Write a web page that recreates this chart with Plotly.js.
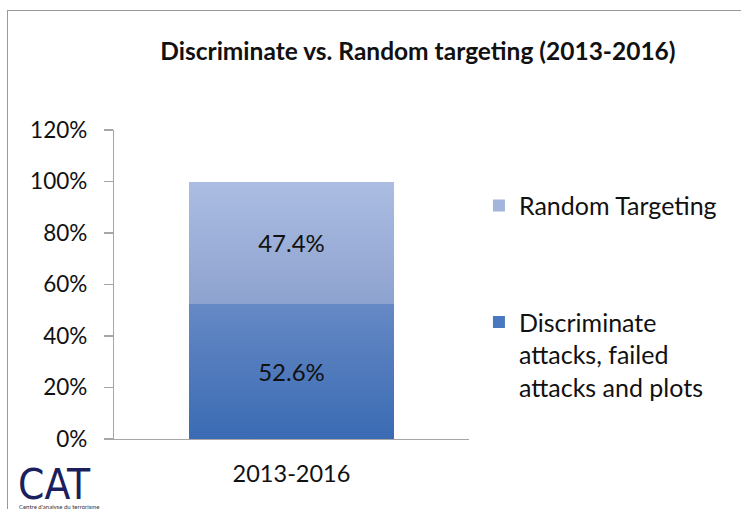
<!DOCTYPE html>
<html>
<head>
<meta charset="utf-8">
<script src="https://cdn.plot.ly/plotly-3.0.1.min.js"></script>
<style>
html,body{margin:0;padding:0;background:#fff;}
#wrap{position:relative;width:741px;height:509px;overflow:hidden;}
#chart{width:741px;height:509px;}
#frame{position:absolute;left:7px;top:10px;width:800px;height:600px;border-left:1.5px solid #9a9a9a;border-top:1.5px solid #9a9a9a;pointer-events:none;}
</style>
</head>
<body>
<div id="wrap"><div id="chart"></div><div id="frame"></div></div>
<script>
const categories = ['2013-2016'];
const discriminate = [52.6];
const randomTargeting = [47.4];
const seriesNames = ['Discriminate<br>attacks, failed<br>attacks and plots', 'Random Targeting'];
const tickVals = [0, 20, 40, 60, 80, 100, 120];
const tickText = ['0%', '20%', '40%', '60%', '80%', '100%', '120%'];

const FONT = 'Lato, "Liberation Sans", sans-serif';

const traces = [
  {
    type: 'bar', x: categories, y: discriminate, name: seriesNames[0], legendgroup: 'a', legendrank: 2,
    marker: {color: '#4a78c0', line: {width: 0}},
    text: discriminate.map(v => v.toFixed(1) + '%'), textposition: 'inside',
    insidetextanchor: 'middle', textangle: 0, constraintext: 'none',
    textfont: {family: FONT, size: 24, color: '#111'}, hoverinfo: 'none'
  },
  {
    type: 'bar', x: categories, y: randomTargeting, name: seriesNames[1], legendgroup: 'b', legendrank: 1,
    marker: {color: '#a3b5dd', line: {width: 0}},
    text: randomTargeting.map(v => v.toFixed(1) + '%'), textposition: 'inside',
    insidetextanchor: 'middle', textangle: 0, constraintext: 'none',
    textfont: {family: FONT, size: 24, color: '#111'}, hoverinfo: 'none'
  }
];

const layout = {
  width: 741, height: 509,
  margin: {l: 114, r: 272, t: 130, b: 70},
  paper_bgcolor: '#fff', plot_bgcolor: '#fff',
  barmode: 'stack', bargap: 0.423,
  font: {family: FONT, color: '#111'},
  title: {
    text: '<b>Discriminate vs. Random targeting (2013-2016)</b>',
    font: {family: FONT, size: 24.5, color: '#111'},
    x: 0.564, xanchor: 'center', xref: 'container',
    y: 0.898, yanchor: 'middle', yref: 'container'
  },
  xaxis: {
    type: 'category', showline: true, linecolor: '#a6a6a6', linewidth: 1.2,
    ticks: '', showgrid: false, zeroline: false,
    tickfont: {family: FONT, size: 23.5, color: '#111'}, ticklabelstandoff: 14
  },
  yaxis: {
    range: [0, 120], tickvals: tickVals, ticktext: tickText,
    showline: true, linecolor: '#a6a6a6', linewidth: 1.2,
    ticks: 'outside', ticklen: 9, tickcolor: '#a6a6a6', tickwidth: 1.2,
    showgrid: false, zeroline: false,
    tickfont: {family: FONT, size: 22.5, color: '#111'}, ticklabelstandoff: 12
  },
  showlegend: true,
  legend: {
    x: 1.028, xanchor: 'left', y: 0.829, yanchor: 'top',
    traceorder: 'grouped', tracegroupgap: 81, valign: 'top',
    font: {family: FONT, size: 25, color: '#111'},
    bgcolor: 'rgba(0,0,0,0)', borderwidth: 0, itemclick: false
  },
  annotations: [
    {text: 'CAT', xref: 'paper', yref: 'paper', x: -0.275, y: -0.148, xanchor: 'left', yanchor: 'middle',
     showarrow: false, font: {family: '"Liberation Sans Narrow", "DejaVu Sans Condensed", sans-serif', size: 42, color: '#1b1f5e'}},
    {text: "Centre d'analyse du terrorisme", xref: 'paper', yref: 'paper', x: -0.272, y: -0.2, xanchor: 'left', yanchor: 'top',
     showarrow: false, font: {family: FONT, size: 6, color: '#333'}}
  ]
};

Plotly.newPlot('chart', traces, layout, {staticPlot: true, displayModeBar: false}).then(gd => {
  const svg = gd.querySelector('svg.main-svg');
  const NS = 'http://www.w3.org/2000/svg';
  let defs = svg.querySelector('defs');
  if (!defs) { defs = document.createElementNS(NS, 'defs'); svg.insertBefore(defs, svg.firstChild); }
  function grad(id, c1, c2) {
    const g = document.createElementNS(NS, 'linearGradient');
    g.setAttribute('id', id);
    g.setAttribute('x1', '0'); g.setAttribute('y1', '0'); g.setAttribute('x2', '0'); g.setAttribute('y2', '1');
    [[0, c1], [1, c2]].forEach(([o, c]) => {
      const s = document.createElementNS(NS, 'stop');
      s.setAttribute('offset', o); s.setAttribute('stop-color', c);
      g.appendChild(s);
    });
    defs.appendChild(g);
  }
  grad('gBottom', '#6689c5', '#3a6bb3');
  grad('gTop', '#abbde2', '#8ea2cf');
  const barTraces = gd.querySelectorAll('.barlayer .trace');
  const ids = ['gBottom', 'gTop'];
  barTraces.forEach((t, i) => {
    t.querySelectorAll('.point path').forEach(p => { p.style.fill = 'url(#' + ids[i] + ')'; });
  });
});
</script>
</body>
</html>
